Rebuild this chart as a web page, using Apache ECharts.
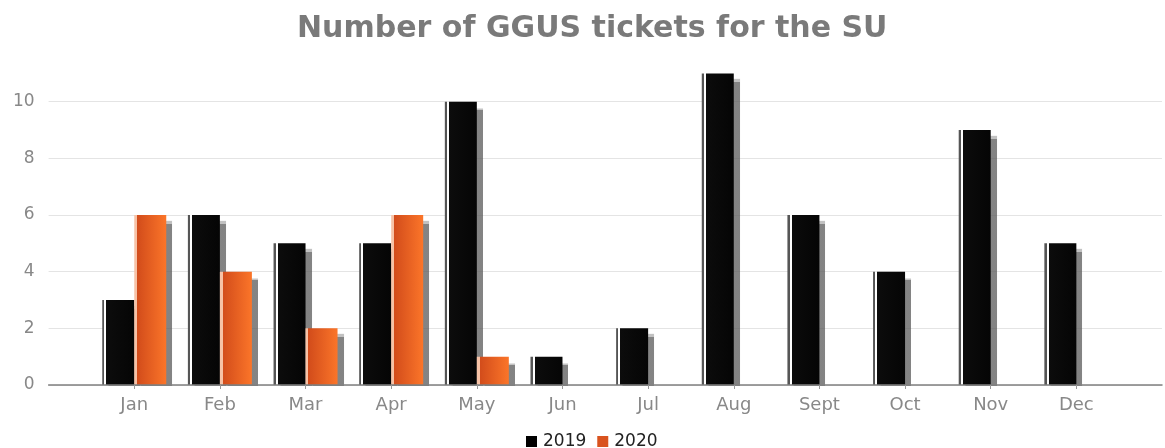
<!DOCTYPE html>
<html>
<head>
<meta charset="utf-8">
<script src="https://cdn.jsdelivr.net/npm/echarts@6/dist/echarts.min.js"></script>
<style>
  html,body{margin:0;padding:0;background:#fff}
  #chart{width:1165px;height:448px}
</style>
</head>
<body>
<div id="chart"></div>
<script>
// 月份和两年的工单数
let months=['Jan','Feb','Mar','Apr','May','Jun','Jul','Aug','Sept','Oct','Nov','Dec']
let tickets2019=[3,6,5,5,10,1,2,11,6,4,9,5]
let tickets2020=[6,4,2,6,1,null,null,null,null,null,null,null]
let yTicks=[0,2,4,6,8,10]

// axis has one empty slot on each side
let cats=[''].concat(months,[''])
let pad=arr=>[null].concat(arr,[null])

let blackFill=new echarts.graphic.LinearGradient(0,0,1,0,[
  {offset:0,color:'#555'},{offset:0.07,color:'#555'},
  {offset:0.07,color:'#ffffff'},{offset:0.13,color:'#ffffff'},
  {offset:0.13,color:'#0c0c0c'},{offset:1,color:'#050505'}
])
let orangeFill=new echarts.graphic.LinearGradient(0,0,1,0,[
  {offset:0,color:'#f7c2a6'},{offset:0.09,color:'#f7c2a6'},
  {offset:0.09,color:'#d24c1b'},{offset:1,color:'#fb7529'}
])
let shadow={shadowColor:'rgba(90,90,90,0.75)',shadowOffsetX:6,shadowOffsetY:6,shadowBlur:1}
let font='DejaVu Sans'

let myChart=echarts.init(document.getElementById('chart'))
let options={
  animation:false,
  textStyle:{fontFamily:font},
  title:{
    text:'Number of GGUS tickets for the SU',
    left:292,
    top:9,
    textStyle:{fontSize:30,fontWeight:'bold',color:'#7a7a7a',fontFamily:font}
  },
  legend:{
    left:521,
    top:428,
    icon:'rect',
    itemWidth:11,
    itemHeight:11,
    itemGap:11,
    textStyle:{fontSize:17,color:'#222',fontFamily:font,padding:[0,0,0,1]},
    data:[
      {name:'2019',itemStyle:{color:'#000',shadowColor:'transparent'}},
      {name:'2020',itemStyle:{color:'#d9531e',shadowColor:'transparent'}}
    ]
  },
  // white strip that hides the bar shadows below the axis line
  graphic:[{
    type:'rect',
    z:5,
    shape:{x:40,y:386,width:1130,height:10},
    style:{fill:'#fff'}
  }],
  grid:{left:48.6,right:-6.3,top:73.4,bottom:63},
  xAxis:{
    type:'category',
    z:10,
    data:cats,
    boundaryGap:false,
    axisLine:{lineStyle:{color:'#808080',width:1.5}},
    axisTick:{
      length:4,
      interval:(i,v)=>v!=='',
      lineStyle:{color:'#999'}
    },
    axisLabel:{color:'#888',fontSize:18,fontFamily:font,margin:11,interval:0},
    splitLine:{show:false}
  },
  yAxis:{
    type:'value',
    min:0,
    max:11,
    interval:2,
    axisLine:{show:false},
    axisTick:{show:false},
    axisLabel:{
      color:'#888',fontSize:17,fontFamily:font,margin:14,showMaxLabel:false,
      formatter:v=>yTicks.indexOf(v)>=0?String(v):''
    },
    splitLine:{showMaxLine:false,lineStyle:{color:'#e4e4e4',width:1.2}}
  },
  series:[
    {
      name:'2019',
      type:'bar',
      barWidth:32,
      barGap:'0%',
      data:pad(tickets2019),
      itemStyle:Object.assign({color:blackFill},shadow)
    },
    {
      name:'2020',
      type:'bar',
      barWidth:32,
      barGap:'0%',
      data:pad(tickets2020),
      itemStyle:Object.assign({color:orangeFill},shadow)
    }
  ]
}
myChart.setOption(options)
</script>
</body>
</html>
